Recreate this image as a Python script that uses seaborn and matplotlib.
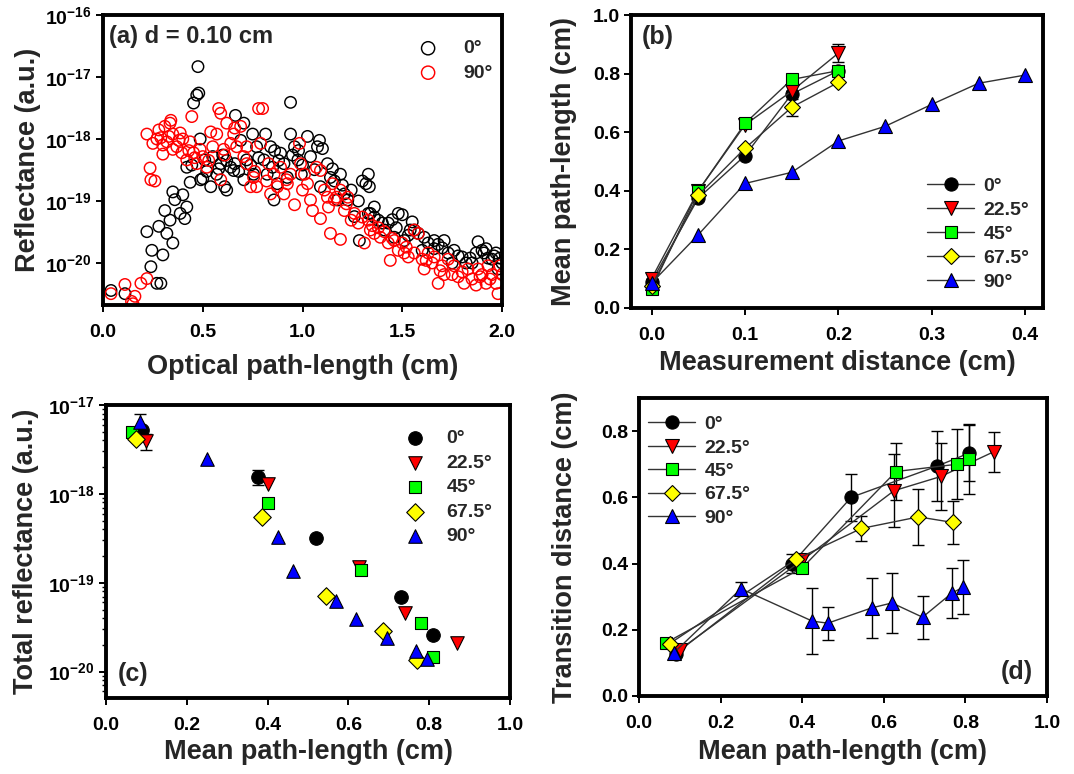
import numpy as np
import pandas as pd
import matplotlib
matplotlib.use("Agg")
import matplotlib.pyplot as plt
import seaborn as sns
from matplotlib.ticker import FuncFormatter, FixedLocator, MultipleLocator, NullFormatter

# ---------------- data ----------------
labels = ["0°", "22.5°", "45°", "67.5°", "90°"]

# (a) reflectance vs optical path-length, d = 0.10 cm
a_x_0 = [0.04, 0.11, 0.22, 0.24, 0.245, 0.27, 0.29, 0.30, 0.28, 0.31, 0.32, 0.336, 0.35, 0.35, 0.36,
         0.387, 0.40, 0.42, 0.41, 0.437, 0.42, 0.445, 0.454, 0.47, 0.48, 0.476, 0.487, 0.49, 0.50, 0.51,
         0.54, 0.55, 0.57, 0.59, 0.61, 0.62, 0.62, 0.64, 0.655, 0.664, 0.69, 0.706, 0.706, 0.72, 0.75,
         0.755, 0.77, 0.807, 0.815, 0.823, 0.84, 0.857, 0.874, 0.89, 0.907, 0.924, 0.94, 0.94, 0.96,
         0.977, 0.994, 1.025, 1.04, 1.075, 1.085, 1.09, 1.125, 1.14, 1.16, 1.176, 1.19, 1.21, 1.227,
         1.244, 1.26, 1.285, 1.30, 1.318, 1.33, 1.335, 1.34, 1.36, 1.38, 1.41, 1.43, 1.46, 1.48, 1.50,
         1.51, 1.55, 1.56, 1.60, 1.61, 1.66, 1.66, 1.71, 1.73, 1.76, 1.80, 1.82, 1.87, 1.88, 1.90, 1.91,
         1.95, 1.97, 2.00, 1.98, 1.75, 1.85, 1.93, 1.70, 1.63, 1.58, 1.54, 1.47, 1.40, 1.36, 1.33,
         0.52, 0.58, 0.60, 0.66, 0.68, 0.74, 0.78, 0.85, 0.88, 0.95, 0.98, 1.00, 1.06, 1.10, 1.15, 0.86,
         1.20, 1.28, 1.45, 1.53, 1.68, 1.78, 1.84, 1.92, 1.96, 1.99]
a_y_0 = [3.6e-21, 3.2e-21, 3.2e-20, 8.7e-21, 1.6e-20, 4.7e-21, 4.7e-21, 1.35e-20, 3.9e-20, 7.0e-20, 3.0e-20,
         4.9e-20, 2.1e-20, 1.4e-19, 1.05e-19, 6.3e-20, 1.26e-19, 8.0e-20, 5.2e-20, 2.0e-19, 3.5e-19, 3.8e-19,
         3.8e-18, 5.1e-18, 5.5e-18, 1.47e-17, 1.0e-18, 2.2e-19, 2.3e-19, 4.6e-19, 1.7e-19, 5.2e-19, 2.7e-19,
         4.0e-19, 1.7e-19, 4.5e-19, 1.5e-19, 3.5e-19, 3.1e-19, 2.4e-18, 9.5e-19, 1.8e-18, 2.2e-19, 4.6e-19,
         1.2e-18, 2.7e-19, 7.5e-19, 4.6e-19, 1.2e-18, 2.7e-19, 7.5e-19, 1.04e-19, 1.9e-19, 5.9e-19, 4.0e-19,
         2.4e-19, 3.9e-18, 1.2e-18, 7.5e-19, 4.6e-19, 2.7e-19, 1.1e-18, 5.2e-19, 7.5e-19, 9.5e-19, 1.7e-19,
         4.0e-19, 2.4e-19, 2.1e-19, 1.04e-19, 2.7e-19, 1.3e-19, 1.04e-19, 1.5e-19, 5.6e-20, 2.3e-20, 2.1e-19,
         1.9e-19, 2.7e-19, 1.7e-19, 6.3e-20, 8.0e-20, 4.9e-20, 3.4e-20, 4.4e-20, 2.6e-20, 6.3e-20, 6.0e-20,
         2.3e-20, 4.6e-20, 3.4e-20, 1.6e-20, 2.6e-20, 2.3e-20, 1.7e-20, 2.3e-20, 1.45e-20, 1.6e-20, 1.25e-20,
         1.0e-20, 1.45e-20, 2.2e-20, 1.6e-20, 1.45e-20, 1.15e-20, 1.45e-20, 1.0e-20, 8.0e-21, 1.0e-20,
         1.0e-20, 1.2e-20, 1.75e-20, 2.1e-20, 3.0e-20, 3.4e-20, 3.7e-20, 4.4e-20, 5.5e-20, 6.3e-20,
         3.0e-19, 3.3e-19, 5.5e-19, 4.0e-19, 3.0e-19, 3.8e-19, 5.0e-19, 3.5e-19, 4.5e-19, 5.5e-19, 6.5e-19,
         3.8e-19, 3.2e-19, 7.0e-19, 3.3e-19, 6.5e-19, 1.8e-19, 1.0e-19, 5.0e-20, 2.8e-20, 2.0e-20, 1.3e-20,
         1.2e-20, 1.7e-20, 1.3e-20, 1.2e-20]

a_x_90 = [0.04, 0.11, 0.143, 0.15, 0.16, 0.19, 0.22, 0.22, 0.236, 0.24, 0.26, 0.25, 0.27, 0.29, 0.30, 0.31,
          0.336, 0.32, 0.34, 0.35, 0.37, 0.35, 0.387, 0.395, 0.40, 0.42, 0.437, 0.445, 0.454, 0.47, 0.487,
          0.50, 0.52, 0.54, 0.55, 0.58, 0.59, 0.57, 0.59, 0.605, 0.62, 0.64, 0.655, 0.67, 0.69, 0.706, 0.72,
          0.74, 0.755, 0.78, 0.80, 0.79, 0.77, 0.82, 0.84, 0.857, 0.874, 0.89, 0.907, 0.924, 0.94, 0.96,
          0.985, 0.99, 1.01, 1.025, 1.04, 1.05, 1.07, 1.09, 1.09, 1.11, 1.125, 1.14, 1.15, 1.16, 1.17, 1.19,
          1.19, 1.21, 1.227, 1.244, 1.26, 1.28, 1.30, 1.31, 1.33, 1.34, 1.36, 1.38, 1.39, 1.41, 1.43, 1.44,
          1.46, 1.48, 1.50, 1.51, 1.53, 1.56, 1.56, 1.58, 1.60, 1.61, 1.63, 1.65, 1.66, 1.68, 1.70, 1.71,
          1.73, 1.75, 1.76, 1.80, 1.81, 1.83, 1.85, 1.87, 1.88, 1.90, 1.92, 1.93, 1.95, 1.97, 1.98, 2.00, 1.99,
          0.28, 0.30, 0.33, 0.38, 0.43, 0.46, 0.53, 0.61, 0.66, 0.72, 0.76, 0.83, 0.92, 1.00, 1.13, 1.22,
          1.35, 1.45, 1.52, 1.62, 1.69, 1.78, 1.89, 1.94]
a_y_90 = [3.2e-21, 4.5e-21, 2.4e-21, 2.2e-21, 2.9e-21, 4.7e-21, 5.6e-21, 1.2e-18, 3.4e-19, 2.2e-19, 2.1e-19,
          8.5e-19, 1.0e-18, 1.05e-18, 5.7e-19, 1.6e-18, 1.8e-18, 9.0e-19, 2.0e-18, 1.2e-18, 7.5e-19, 6.8e-19,
          1.25e-18, 6.0e-19, 1.0e-18, 4.6e-19, 9.0e-19, 2.3e-18, 6.0e-19, 4.0e-19, 6.8e-19, 5.2e-19, 3.5e-19,
          1.3e-18, 7.5e-19, 3.1e-18, 2.6e-18, 1.2e-18, 2.2e-19, 6.8e-19, 1.8e-18, 8.5e-19, 1.2e-18, 7.5e-19,
          1.6e-18, 5.2e-19, 7.5e-19, 1.7e-19, 2.4e-19, 3.1e-18, 3.1e-18, 8.5e-19, 1.7e-19, 2.1e-19, 1.3e-19,
          2.7e-19, 1.7e-19, 3.5e-19, 1.3e-19, 1.9e-19, 2.7e-19, 8.7e-20, 8.5e-19, 4.0e-19, 2.7e-19, 1.9e-19,
          1.04e-19, 7.0e-20, 3.5e-19, 5.2e-20, 3.1e-19, 1.5e-19, 1.15e-19, 3.0e-20, 1.9e-19, 1.04e-19, 1.15e-19,
          2.4e-20, 1.5e-19, 7.0e-20, 1.15e-19, 4.9e-20, 6.3e-20, 4.4e-20, 5.5e-20, 2.1e-20, 4.9e-20, 3.4e-20,
          3.0e-20, 3.7e-20, 2.6e-20, 3.2e-20, 2.1e-20, 1.1e-20, 2.3e-20, 1.6e-20, 2.1e-20, 1.45e-20, 1.25e-20,
          3.4e-20, 1.45e-20, 3.0e-20, 1.15e-20, 8.0e-21, 1.45e-20, 1.0e-20, 1.25e-20, 4.7e-21, 9.0e-21, 6.5e-21,
          1.15e-20, 6.5e-21, 9.0e-21, 7.2e-21, 4.7e-21, 8.0e-21, 5.5e-21, 4.4e-21, 8.0e-21, 6.5e-21, 4.7e-21,
          9.0e-21, 6.5e-21, 4.7e-21, 3.2e-21, 6.5e-21, 9.0e-21,
          1.4e-18, 8.0e-19, 1.1e-18, 9.5e-19, 6.5e-19, 5.0e-19, 4.5e-19, 5.5e-19, 1.5e-18, 4.0e-19, 3.0e-19,
          4.0e-19, 2.2e-19, 1.5e-19, 8.0e-20, 9.0e-20, 4.0e-20, 2.5e-20, 1.8e-20, 1.1e-20, 7.5e-21, 6.0e-21,
          6.0e-21, 5.5e-21]

# (b) mean path-length vs measurement distance
dist_short = [0.0, 0.05, 0.10, 0.15, 0.20]
dist_long = [0.0, 0.05, 0.10, 0.15, 0.20, 0.25, 0.30, 0.35, 0.40]
mpl_0 = [0.09, 0.375, 0.52, 0.73, 0.81]
mpl_22 = [0.10, 0.40, 0.625, 0.74, 0.87]
mpl_45 = [0.065, 0.40, 0.63, 0.78, 0.81]
mpl_67 = [0.075, 0.385, 0.545, 0.685, 0.77]
mpl_90 = [0.085, 0.25, 0.425, 0.463, 0.57, 0.62, 0.695, 0.767, 0.795]
mpl_err_22 = [0.0, 0.0, 0.0, 0.0, 0.03]
mpl_err_67 = [0.0, 0.0, 0.0, 0.03, 0.0]

# (c) total reflectance vs mean path-length
tr_0 = [5.2e-18, 1.56e-18, 3.2e-19, 6.9e-20, 2.6e-20]
tr_22 = [3.9e-18, 1.3e-18, 1.5e-19, 4.6e-20, 2.1e-20]
tr_45 = [5.0e-18, 7.9e-19, 1.4e-19, 3.5e-20, 1.47e-20]
tr_67 = [4.1e-18, 5.5e-19, 7.1e-20, 2.9e-20, 1.35e-20]
tr_90 = [6.5e-18, 2.5e-18, 3.3e-19, 1.34e-19, 6.3e-20, 3.9e-20, 2.4e-20, 1.7e-20, 1.4e-20]
tr_err_0 = [0.0, 0.3e-18, 0.0, 0.0, 0.0]
tr_err_22 = [0.8e-18, 0.0, 0.0, 0.0, 0.0]
tr_err_90 = [1.4e-18, 0, 0, 0, 0, 0, 0, 0, 0]

# (d) transition distance vs mean path-length
td_0 = [0.128, 0.40, 0.60, 0.694, 0.734]
td_22 = [0.14, 0.41, 0.62, 0.663, 0.738]
td_45 = [0.16, 0.387, 0.678, 0.70, 0.716]
td_67 = [0.158, 0.413, 0.506, 0.541, 0.524]
td_90 = [0.13, 0.324, 0.226, 0.22, 0.266, 0.281, 0.238, 0.311, 0.329]
td_err_0 = [0.0, 0.03, 0.07, 0.105, 0.085]
td_err_22 = [0.0, 0.0, 0.11, 0.10, 0.06]
td_err_45 = [0.0, 0.0, 0.085, 0.105, 0.105]
td_err_67 = [0.0, 0.0, 0.038, 0.085, 0.064]
td_err_90 = [0.0, 0.02, 0.10, 0.05, 0.09, 0.09, 0.065, 0.075, 0.082]

# tick values
a_yticks = [1e-20, 1e-19, 1e-18, 1e-17, 1e-16]
c_yticks = [1e-20, 1e-19, 1e-18, 1e-17]
c_yminor = [6e-21, 7e-21, 8e-21, 9e-21,
            2e-20, 3e-20, 4e-20, 5e-20, 6e-20, 7e-20, 8e-20, 9e-20,
            2e-19, 3e-19, 4e-19, 5e-19, 6e-19, 7e-19, 8e-19, 9e-19,
            2e-18, 3e-18, 4e-18, 5e-18, 6e-18, 7e-18, 8e-18, 9e-18]

# ---------------- style ----------------
sns.set_style("ticks")
plt.rcParams.update({
    "font.family": ["Liberation Sans", "DejaVu Sans"],
    "font.weight": "bold",
    "axes.labelweight": "bold",
    "axes.linewidth": 2.8,
    "xtick.major.width": 1.4, "ytick.major.width": 1.4,
    "xtick.minor.width": 1.0, "ytick.minor.width": 1.0,
    "xtick.major.size": 5, "ytick.major.size": 5,
    "ytick.minor.size": 3,
    "xtick.direction": "out", "ytick.direction": "out",
    "xtick.labelsize": 14, "ytick.labelsize": 14,
    "xtick.major.pad": 9, "ytick.major.pad": 3,
    "axes.edgecolor": "black",
    "xtick.color": "black", "ytick.color": "black",
})

colors = ["#000000", "#ff0000", "#00ff00", "#ffff00", "#0000ff"]
markers = ["o", "v", "s", "D", "^"]
msizes = [9.5, 9.5, 9, 8.5, 9.5]

fig = plt.figure(figsize=(10.74, 7.74), dpi=100)
W, H = 1074, 774
def add_ax(left, top, right, bottom):
    return fig.add_axes([left / W, 1 - bottom / H, (right - left) / W, (bottom - top) / H])

ax_a = add_ax(103, 15, 502, 305)
ax_b = add_ax(631, 15, 1043, 308)
ax_c = add_ax(106, 405, 510, 698)
ax_d = add_ax(639, 398, 1047, 696)

sci = FuncFormatter(lambda v, p: r"$\mathdefault{10^{%d}}$" % int(round(np.log10(v))))
one_dec = FuncFormatter(lambda v, p: f"{v:.1f}")
LABEL_FS = 19.5
LEG_FS = 14

# ---------------- (a) ----------------
df_a = pd.concat([
    pd.DataFrame({"x": a_x_0, "y": a_y_0, "angle": "0°"}),
    pd.DataFrame({"x": a_x_90, "y": a_y_90, "angle": "90°"}),
])
for lab, col in [("0°", "black"), ("90°", "red")]:
    sub = df_a[df_a["angle"] == lab]
    sns.scatterplot(x=sub["x"], y=sub["y"], ax=ax_a, marker="o", s=68,
                    facecolors="none", edgecolor=col, linewidth=1.05, label=lab)
ax_a.set_yscale("log")
ax_a.set_xlim(0, 2.0)
ax_a.set_ylim(2.1e-21, 1e-16)
ax_a.xaxis.set_major_locator(MultipleLocator(0.5))
ax_a.xaxis.set_major_formatter(one_dec)
ax_a.yaxis.set_major_locator(FixedLocator(a_yticks))
ax_a.yaxis.set_minor_locator(FixedLocator([]))
ax_a.yaxis.set_minor_formatter(NullFormatter())
ax_a.yaxis.set_major_formatter(sci)
ax_a.set_xlabel("Optical path-length (cm)", fontsize=LABEL_FS)
ax_a.set_ylabel("Reflectance (a.u.)", fontsize=LABEL_FS)
ax_a.xaxis.set_label_coords(0.5, -0.17)
ax_a.yaxis.set_label_coords(-0.156, 0.5)
ax_a.text(0.015, 0.965, "(a) d = 0.10 cm", transform=ax_a.transAxes, fontsize=17,
          fontweight="bold", va="top", ha="left")
ax_a.legend(loc="upper right", bbox_to_anchor=(1.02, 0.975), frameon=False, fontsize=LEG_FS,
            handletextpad=0.8, labelspacing=0.35, markerscale=1.15)

# ---------------- (b) ----------------
b_series = [(dist_short, mpl_0), (dist_short, mpl_22), (dist_short, mpl_45),
            (dist_short, mpl_67), (dist_long, mpl_90)]
ax_b.errorbar(dist_short, mpl_22, yerr=mpl_err_22, fmt="none", ecolor="black",
              elinewidth=1, capsize=4, capthick=1, zorder=1)
ax_b.errorbar(dist_short, mpl_67, yerr=mpl_err_67, fmt="none", ecolor="black",
              elinewidth=1, capsize=4, capthick=1, zorder=1)
for (xs, ys), lab, col, mk, ms in zip(b_series, labels, colors, markers, msizes):
    sns.lineplot(x=xs, y=ys, ax=ax_b, color="#333333", linewidth=1.0, marker=mk,
                 markersize=ms, markerfacecolor=col, markeredgecolor="black",
                 markeredgewidth=0.8, label=lab, sort=False, estimator=None)
ax_b.set_xlim(-0.022, 0.419)
ax_b.set_ylim(0, 1.0)
ax_b.xaxis.set_major_locator(MultipleLocator(0.1))
ax_b.yaxis.set_major_locator(MultipleLocator(0.2))
ax_b.xaxis.set_major_formatter(one_dec)
ax_b.yaxis.set_major_formatter(one_dec)
ax_b.set_xlabel("Measurement distance (cm)", fontsize=LABEL_FS)
ax_b.set_ylabel("Mean path-length (cm)", fontsize=LABEL_FS)
ax_b.xaxis.set_label_coords(0.5, -0.143)
ax_b.yaxis.set_label_coords(-0.13, 0.5)
ax_b.text(0.025, 0.965, "(b)", transform=ax_b.transAxes, fontsize=18,
          fontweight="bold", va="top", ha="left")
ax_b.legend(loc="lower right", bbox_to_anchor=(1.01, 0.0), frameon=False, fontsize=LEG_FS,
            handlelength=2.4, handletextpad=0.5, labelspacing=0.32)

# ---------------- (c) ----------------
c_series = [(mpl_0, tr_0), (mpl_22, tr_22), (mpl_45, tr_45), (mpl_67, tr_67), (mpl_90, tr_90)]
for (xs, ys), err in zip([c_series[0], c_series[1], c_series[4]], [tr_err_0, tr_err_22, tr_err_90]):
    xe = [x for x, e in zip(xs, err) if e > 0]
    ye = [y for y, e in zip(ys, err) if e > 0]
    ee = [e for e in err if e > 0]
    ax_c.errorbar(xe, ye, yerr=ee, fmt="none", ecolor="black", elinewidth=1,
                  capsize=4, capthick=1, zorder=1)
csizes = [95, 95, 85, 80, 95]
for (xs, ys), lab, col, mk, s in zip(c_series, labels, colors, markers, csizes):
    sns.scatterplot(x=xs, y=ys, ax=ax_c, marker=mk, s=s, color=col,
                    edgecolor="black", linewidth=0.8, label=lab, zorder=3)
ax_c.set_yscale("log")
ax_c.set_xlim(0, 1.0)
ax_c.set_ylim(5.05e-21, 1e-17)
ax_c.xaxis.set_major_locator(MultipleLocator(0.2))
ax_c.xaxis.set_major_formatter(one_dec)
ax_c.yaxis.set_major_locator(FixedLocator(c_yticks))
ax_c.yaxis.set_minor_locator(FixedLocator(c_yminor))
ax_c.yaxis.set_minor_formatter(NullFormatter())
ax_c.yaxis.set_major_formatter(sci)
ax_c.set_xlabel("Mean path-length (cm)", fontsize=LABEL_FS)
ax_c.set_ylabel("Total reflectance (a.u.)", fontsize=LABEL_FS)
ax_c.xaxis.set_label_coords(0.5, -0.14)
ax_c.yaxis.set_label_coords(-0.166, 0.5)
ax_c.text(0.03, 0.04, "(c)", transform=ax_c.transAxes, fontsize=18,
          fontweight="bold", va="bottom", ha="left")
ax_c.legend(loc="upper right", bbox_to_anchor=(1.0, 0.975), frameon=False, fontsize=LEG_FS,
            handletextpad=0.6, labelspacing=0.35)

# ---------------- (d) ----------------
d_series = [(mpl_0, td_0), (mpl_22, td_22), (mpl_45, td_45), (mpl_67, td_67), (mpl_90, td_90)]
d_errs = [td_err_0, td_err_22, td_err_45, td_err_67, td_err_90]
for (xs, ys), err in zip(d_series, d_errs):
    xe = [x for x, e in zip(xs, err) if e > 0]
    ye = [y for y, e in zip(ys, err) if e > 0]
    ee = [e for e in err if e > 0]
    ax_d.errorbar(xe, ye, yerr=ee, fmt="none", ecolor="black", elinewidth=1,
                  capsize=4, capthick=1, zorder=1)
for (xs, ys), lab, col, mk, ms in zip(d_series, labels, colors, markers, msizes):
    sns.lineplot(x=xs, y=ys, ax=ax_d, color="#333333", linewidth=1.0, marker=mk,
                 markersize=ms, markerfacecolor=col, markeredgecolor="black",
                 markeredgewidth=0.8, label=lab, sort=False, estimator=None)
ax_d.set_xlim(0, 1.0)
ax_d.set_ylim(0, 0.9)
ax_d.xaxis.set_major_locator(MultipleLocator(0.2))
ax_d.yaxis.set_major_locator(MultipleLocator(0.2))
ax_d.xaxis.set_major_formatter(one_dec)
ax_d.yaxis.set_major_formatter(one_dec)
ax_d.set_xlabel("Mean path-length (cm)", fontsize=LABEL_FS)
ax_d.set_ylabel("Transition distance (cm)", fontsize=LABEL_FS)
ax_d.xaxis.set_label_coords(0.5, -0.145)
ax_d.yaxis.set_label_coords(-0.15, 0.5)
ax_d.text(0.965, 0.04, "(d)", transform=ax_d.transAxes, fontsize=18,
          fontweight="bold", va="bottom", ha="right")
ax_d.legend(loc="upper left", bbox_to_anchor=(-0.02, 1.0), frameon=False, fontsize=LEG_FS,
            handlelength=2.4, handletextpad=0.5, labelspacing=0.3)

for ax in (ax_a, ax_b, ax_c, ax_d):
    for sp in ax.spines.values():
        sp.set_visible(True)
        sp.set_linewidth(2.8)
    ax.tick_params(top=False, right=False)

fig.savefig("out.png", dpi=100, facecolor="white")
